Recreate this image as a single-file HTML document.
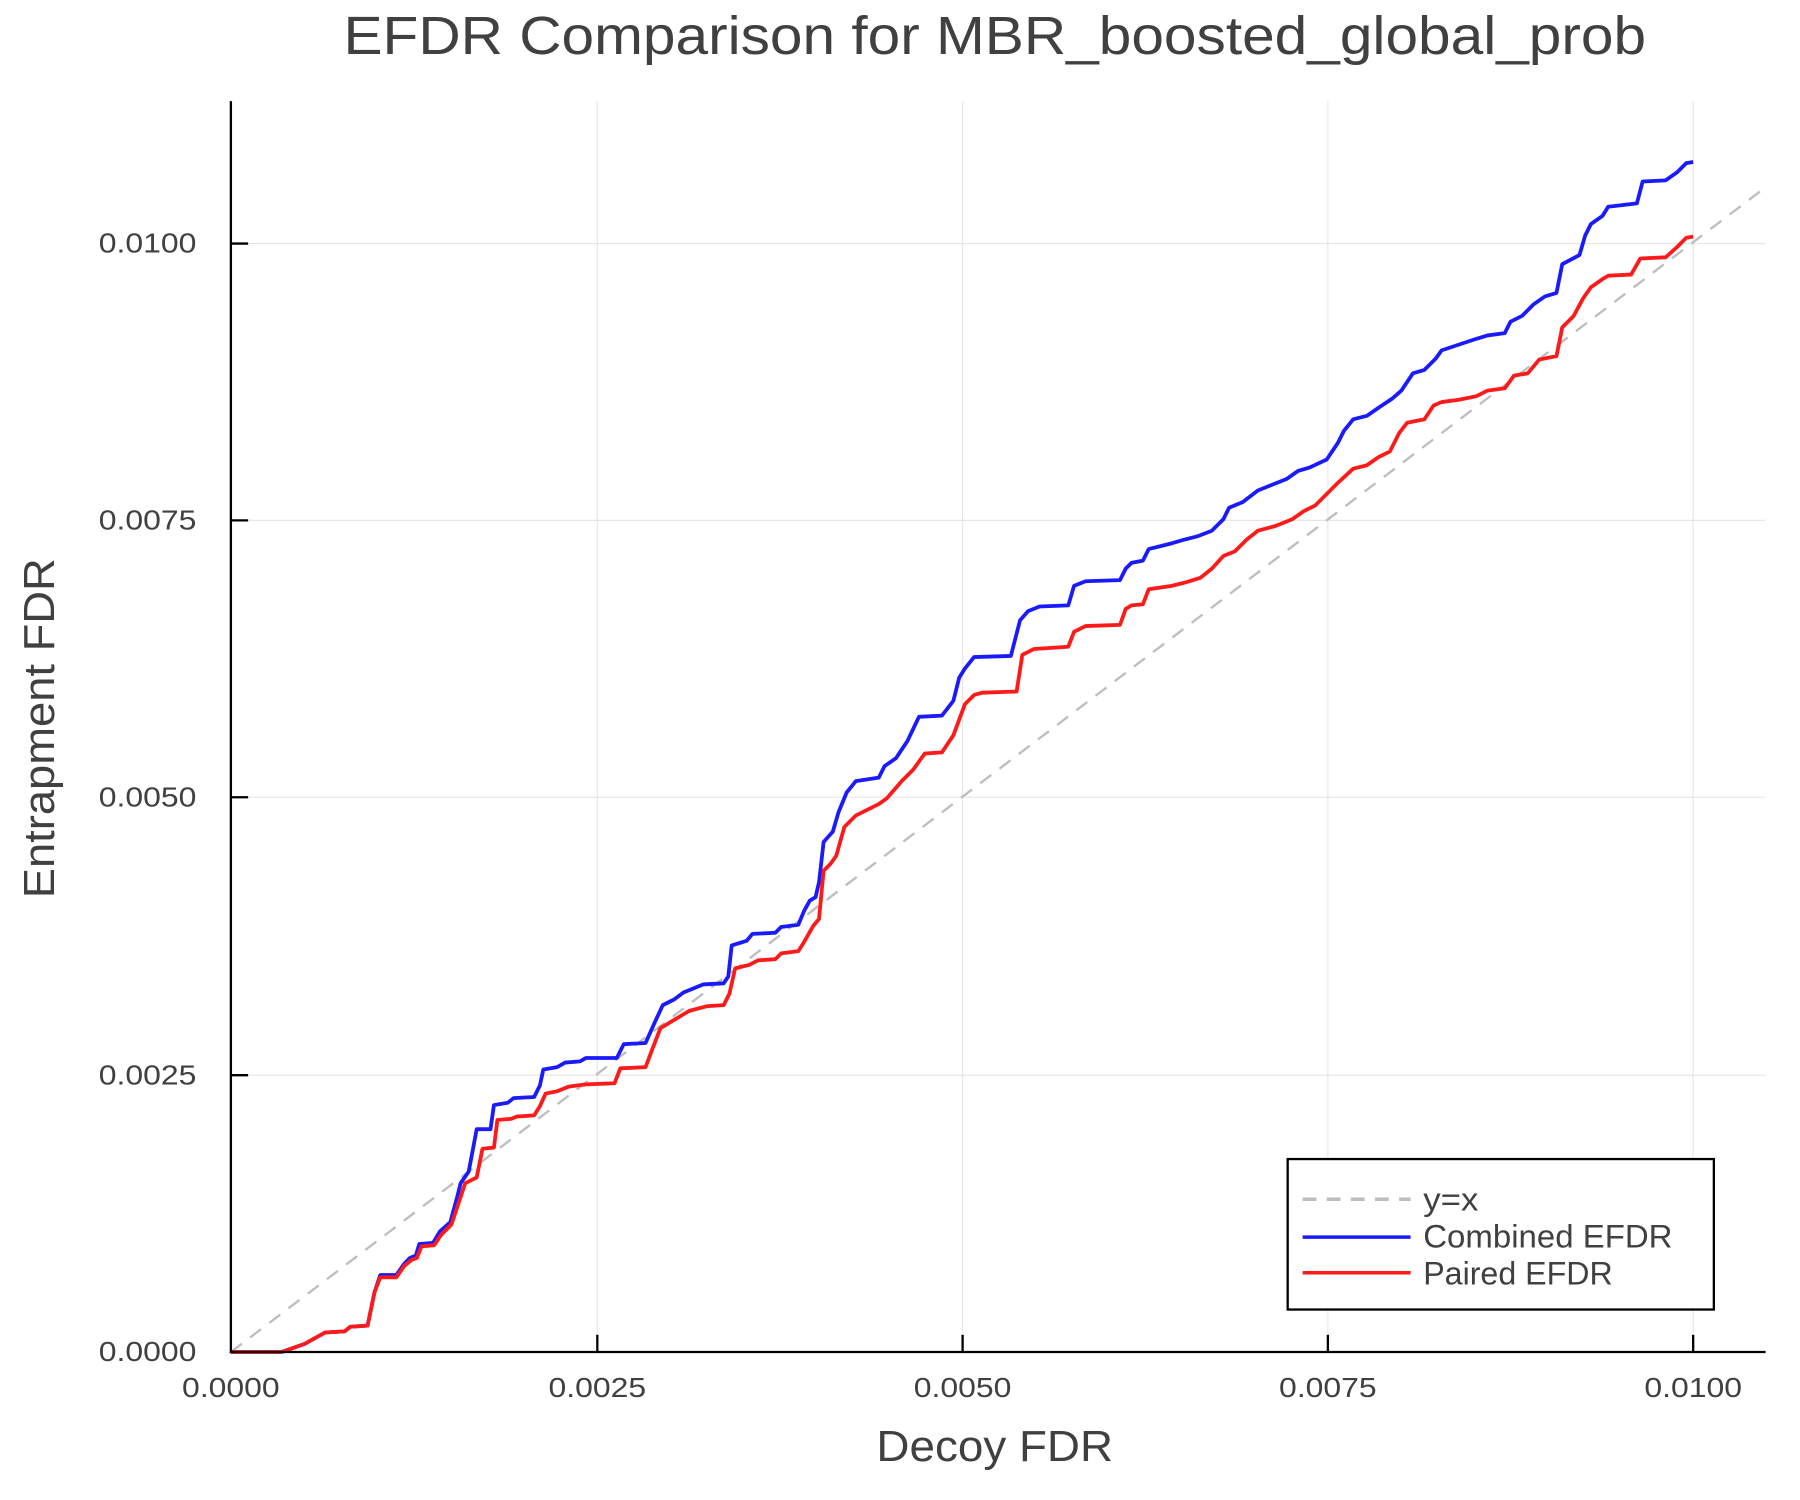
<!DOCTYPE html>
<html><head><meta charset="utf-8"><style>html,body{margin:0;padding:0;background:#fff}svg{display:block}</style></head>
<body>
<svg xmlns="http://www.w3.org/2000/svg" width="1800" height="1500" viewBox="0 0 1567 1305.8" font-family="'Liberation Sans', sans-serif">
<rect width="1567" height="1306" fill="#fff"/>
<g stroke="#e6e6e6" stroke-width="1">
<line x1="520" y1="88" x2="520" y2="1177"/><line x1="838" y1="88" x2="838" y2="1177"/><line x1="1156" y1="88" x2="1156" y2="1177"/><line x1="1474" y1="88" x2="1474" y2="1177"/>
<line x1="201" y1="212" x2="1537" y2="212"/><line x1="201" y1="453" x2="1537" y2="453"/><line x1="201" y1="694" x2="1537" y2="694"/><line x1="201" y1="936" x2="1537" y2="936"/>
</g>
<line x1="201" y1="1177" x2="1537" y2="163" stroke="#bdbdbd" stroke-width="2" stroke-dasharray="12,9"/>
<polyline fill="none" stroke="#1a1aff" stroke-width="3.3" stroke-linejoin="round" points="201,1177 245,1177 265,1170 283,1160 300,1159 305,1155 320,1154 326,1125 331,1110 345,1110 352,1100 357,1095 362,1093 365,1083 377,1082 383,1072 392,1064 398,1042 401,1030 408,1020 415,983 427,983 430,962 442,960 447,956 465,955 470,945 473,931 485,929 492,925 505,924 510,921 537,921 543,909 562,908 570,890 577,875 587,870 595,864 612,857 630,856 634,850 637,823 650,819 655,813 675,812 680,807 695,805 700,793 705,784 710,781 713,768 717,733 725,724 730,707 737,690 745,680 765,677 770,667 780,660 790,645 800,624 820,623 830,610 835,590 840,582 848,572 880,571 888,540 895,532 905,528 930,527 935,510 945,506 975,505 980,495 985,490 995,488 1000,478 1020,473 1030,470 1042,467 1055,462 1065,452 1070,442 1082,437 1095,427 1105,423 1120,417 1130,410 1140,407 1155,400 1165,385 1170,375 1178,365 1190,362 1200,355 1212,347 1220,340 1230,325 1240,322 1250,312 1255,305 1270,300 1285,295 1295,292 1310,290 1315,280 1325,275 1335,265 1345,258 1355,255 1360,230 1375,222 1380,205 1385,195 1395,188 1400,180 1425,177 1430,158 1450,157 1460,150 1468,142 1474,141"/>
<polyline fill="none" stroke="#ff1a1a" stroke-width="3.3" stroke-linejoin="round" points="201,1177 245,1177 265,1170 283,1160 300,1159 305,1155 320,1154 326,1125 331,1112 345,1112 352,1102 358,1097 363,1095 367,1085 378,1084 384,1075 393,1066 400,1045 405,1030 415,1025 420,1000 430,999 433,975 445,974 450,972 465,971 470,963 475,952 485,950 495,946 510,944 535,943 540,930 562,929 568,913 575,895 590,886 600,880 615,876 630,875 635,865 640,843 652,840 660,836 675,835 680,830 695,828 700,820 708,806 713,800 717,758 723,752 728,745 735,720 745,710 765,700 772,695 785,680 795,670 805,656 820,655 830,640 840,613 848,605 855,603 885,602 890,570 900,565 930,563 935,550 945,545 975,544 980,530 985,527 995,526 1000,513 1020,510 1032,507 1045,503 1055,495 1065,484 1075,480 1085,470 1095,462 1110,458 1125,452 1135,445 1145,440 1155,430 1165,420 1178,408 1190,405 1200,398 1210,393 1218,377 1225,368 1240,365 1248,353 1255,350 1270,348 1285,345 1295,340 1310,338 1318,327 1330,325 1340,313 1355,310 1360,285 1370,275 1378,260 1385,250 1395,243 1400,240 1420,239 1428,225 1450,224 1460,215 1468,207 1474,206"/>
<g stroke="#000" stroke-width="2">
<line x1="201" y1="88" x2="201" y2="1178"/><line x1="200" y1="1177" x2="1537" y2="1177"/>
<line x1="520" y1="1177" x2="520" y2="1162"/><line x1="838" y1="1177" x2="838" y2="1162"/><line x1="1156" y1="1177" x2="1156" y2="1162"/><line x1="1474" y1="1177" x2="1474" y2="1162"/>
<line x1="201" y1="212" x2="216" y2="212"/><line x1="201" y1="453" x2="216" y2="453"/><line x1="201" y1="694" x2="216" y2="694"/><line x1="201" y1="936" x2="216" y2="936"/>
</g>
<g fill="#404040" font-size="24">
<g text-anchor="middle"><text x="201" y="1216" textLength="85" lengthAdjust="spacingAndGlyphs">0.0000</text><text x="520" y="1216" textLength="85" lengthAdjust="spacingAndGlyphs">0.0025</text><text x="838" y="1216" textLength="85" lengthAdjust="spacingAndGlyphs">0.0050</text><text x="1156" y="1216" textLength="85" lengthAdjust="spacingAndGlyphs">0.0075</text><text x="1474" y="1216" textLength="85" lengthAdjust="spacingAndGlyphs">0.0100</text></g>
<g text-anchor="end"><text x="171" y="220" textLength="85" lengthAdjust="spacingAndGlyphs">0.0100</text><text x="171" y="461" textLength="85" lengthAdjust="spacingAndGlyphs">0.0075</text><text x="171" y="702" textLength="85" lengthAdjust="spacingAndGlyphs">0.0050</text><text x="171" y="944" textLength="85" lengthAdjust="spacingAndGlyphs">0.0025</text><text x="171" y="1185" textLength="85" lengthAdjust="spacingAndGlyphs">0.0000</text></g>
</g>
<text x="866" y="47" text-anchor="middle" font-size="47" fill="#404040" textLength="1134" lengthAdjust="spacingAndGlyphs">EFDR Comparison for MBR_boosted_global_prob</text>
<text x="866" y="1272" text-anchor="middle" font-size="38" fill="#404040" textLength="206" lengthAdjust="spacingAndGlyphs">Decoy FDR</text>
<text transform="translate(47,634) rotate(-90)" text-anchor="middle" font-size="38" fill="#404040" textLength="296" lengthAdjust="spacingAndGlyphs">Entrapment FDR</text>
<rect x="1121" y="1009" width="371" height="131" fill="#fff" stroke="#000" stroke-width="2"/>
<line x1="1134" y1="1044" x2="1228" y2="1044" stroke="#bdbdbd" stroke-width="3" stroke-dasharray="12,9"/>
<line x1="1134" y1="1077" x2="1228" y2="1077" stroke="#1a1aff" stroke-width="3"/>
<line x1="1134" y1="1108" x2="1228" y2="1108" stroke="#ff1a1a" stroke-width="3"/>
<g fill="#404040" font-size="28"><text x="1239" y="1054" textLength="48" lengthAdjust="spacingAndGlyphs">y=x</text><text x="1239" y="1086" textLength="217" lengthAdjust="spacingAndGlyphs">Combined EFDR</text><text x="1239" y="1118" textLength="165" lengthAdjust="spacingAndGlyphs">Paired EFDR</text></g>
</svg>
</body></html>
